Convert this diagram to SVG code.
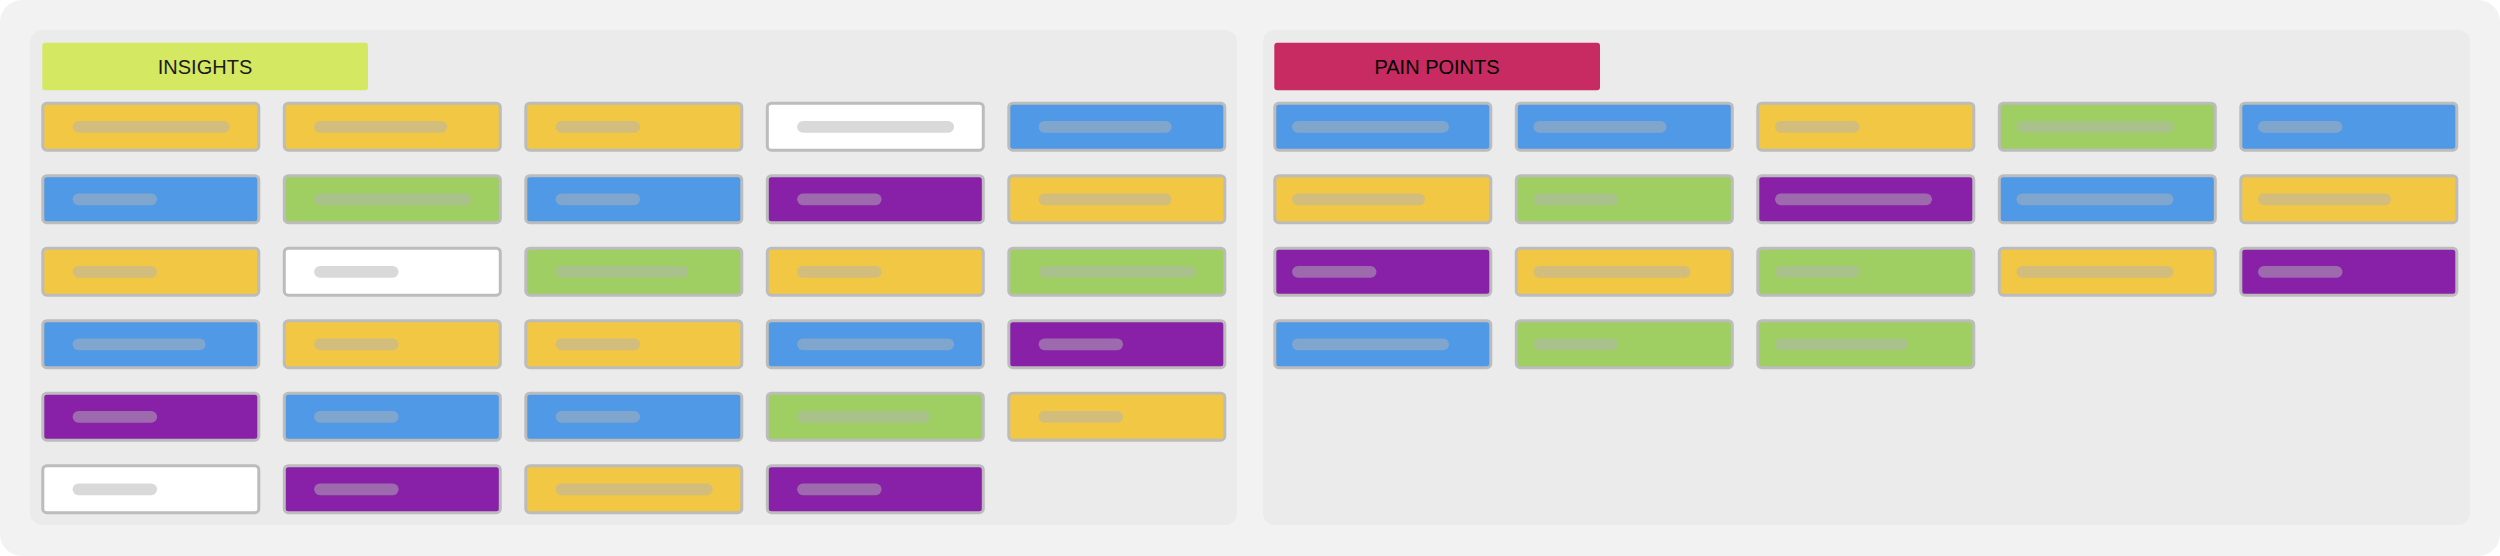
<svg xmlns="http://www.w3.org/2000/svg" width="2500" height="556" viewBox="0 0 2500 556">
<style>
.card{stroke:#bcbcbc;stroke-width:3}
.y{fill:#f2c744}.b{fill:#4f99e6}.g{fill:#9fcf62}.p{fill:#8820a8}.w{fill:#ffffff}
.bar{fill:#b4b4b4;fill-opacity:0.5}
.hdr{font-family:"Liberation Sans",Arial,sans-serif;font-size:20px;text-anchor:middle}
</style>
<rect x="0" y="0" width="2500" height="556" fill="#ffffff"/>
<rect id="board" x="0" y="0" width="2500" height="556" rx="22" fill="#f2f2f2"/>
<g id="insights-panel">
<rect x="30" y="30" width="1207" height="495" rx="12" fill="#ebebeb"/>
<g id="insights-header"><rect x="42.3" y="42.7" width="325.7" height="47.6" rx="3" fill="#d4e862"/><text class="hdr" x="205" y="74" fill="#1a1a1a">INSIGHTS</text></g>
</g>
<g id="painpoints-panel">
<rect x="1263" y="30" width="1207" height="495" rx="12" fill="#ebebeb"/>
<g id="painpoints-header"><rect x="1274.3" y="42.7" width="325.7" height="47.6" rx="3" fill="#c82b61"/><text class="hdr" x="1437" y="74" fill="#000000">PAIN POINTS</text></g>
</g>
<g id="connectors"></g>
<g id="insights-cards">
<g id="i-1-1" transform="translate(41.3,101.7)"><rect class="card y" x="1.5" y="1.5" width="216" height="47" rx="4"/><rect class="bar" x="31.3" y="19.3" width="157" height="11.7" rx="5.85"/></g>
<g id="i-1-2" transform="translate(282.8,101.7)"><rect class="card y" x="1.5" y="1.5" width="216" height="47" rx="4"/><rect class="bar" x="31.3" y="19.3" width="133" height="11.7" rx="5.85"/></g>
<g id="i-1-3" transform="translate(524.3,101.7)"><rect class="card y" x="1.5" y="1.5" width="216" height="47" rx="4"/><rect class="bar" x="31.3" y="19.3" width="84.5" height="11.7" rx="5.85"/></g>
<g id="i-1-4" transform="translate(765.8,101.7)"><rect class="card w" x="1.5" y="1.5" width="216" height="47" rx="4"/><rect class="bar" x="31.3" y="19.3" width="157" height="11.7" rx="5.85"/></g>
<g id="i-1-5" transform="translate(1007.3,101.7)"><rect class="card b" x="1.5" y="1.5" width="216" height="47" rx="4"/><rect class="bar" x="31.3" y="19.3" width="133" height="11.7" rx="5.85"/></g>

<g id="i-2-1" transform="translate(41.3,174.2)"><rect class="card b" x="1.5" y="1.5" width="216" height="47" rx="4"/><rect class="bar" x="31.3" y="19.3" width="84.5" height="11.7" rx="5.85"/></g>
<g id="i-2-2" transform="translate(282.8,174.2)"><rect class="card g" x="1.5" y="1.5" width="216" height="47" rx="4"/><rect class="bar" x="31.3" y="19.3" width="157" height="11.7" rx="5.85"/></g>
<g id="i-2-3" transform="translate(524.3,174.2)"><rect class="card b" x="1.5" y="1.5" width="216" height="47" rx="4"/><rect class="bar" x="31.3" y="19.3" width="84.5" height="11.7" rx="5.85"/></g>
<g id="i-2-4" transform="translate(765.8,174.2)"><rect class="card p" x="1.5" y="1.5" width="216" height="47" rx="4"/><rect class="bar" x="31.3" y="19.3" width="84.5" height="11.7" rx="5.85"/></g>
<g id="i-2-5" transform="translate(1007.3,174.2)"><rect class="card y" x="1.5" y="1.5" width="216" height="47" rx="4"/><rect class="bar" x="31.3" y="19.3" width="133" height="11.7" rx="5.85"/></g>

<g id="i-3-1" transform="translate(41.3,246.7)"><rect class="card y" x="1.5" y="1.5" width="216" height="47" rx="4"/><rect class="bar" x="31.3" y="19.3" width="84.5" height="11.7" rx="5.85"/></g>
<g id="i-3-2" transform="translate(282.8,246.7)"><rect class="card w" x="1.5" y="1.5" width="216" height="47" rx="4"/><rect class="bar" x="31.3" y="19.3" width="84.5" height="11.7" rx="5.85"/></g>
<g id="i-3-3" transform="translate(524.3,246.7)"><rect class="card g" x="1.5" y="1.5" width="216" height="47" rx="4"/><rect class="bar" x="31.3" y="19.3" width="133" height="11.7" rx="5.85"/></g>
<g id="i-3-4" transform="translate(765.8,246.7)"><rect class="card y" x="1.5" y="1.5" width="216" height="47" rx="4"/><rect class="bar" x="31.3" y="19.3" width="84.5" height="11.7" rx="5.85"/></g>
<g id="i-3-5" transform="translate(1007.3,246.7)"><rect class="card g" x="1.5" y="1.5" width="216" height="47" rx="4"/><rect class="bar" x="31.3" y="19.3" width="157" height="11.7" rx="5.85"/></g>

<g id="i-4-1" transform="translate(41.3,319.2)"><rect class="card b" x="1.5" y="1.5" width="216" height="47" rx="4"/><rect class="bar" x="31.3" y="19.3" width="133" height="11.7" rx="5.85"/></g>
<g id="i-4-2" transform="translate(282.8,319.2)"><rect class="card y" x="1.5" y="1.5" width="216" height="47" rx="4"/><rect class="bar" x="31.3" y="19.3" width="84.5" height="11.7" rx="5.85"/></g>
<g id="i-4-3" transform="translate(524.3,319.2)"><rect class="card y" x="1.5" y="1.5" width="216" height="47" rx="4"/><rect class="bar" x="31.3" y="19.3" width="84.5" height="11.7" rx="5.85"/></g>
<g id="i-4-4" transform="translate(765.8,319.2)"><rect class="card b" x="1.5" y="1.5" width="216" height="47" rx="4"/><rect class="bar" x="31.3" y="19.3" width="157" height="11.7" rx="5.85"/></g>
<g id="i-4-5" transform="translate(1007.3,319.2)"><rect class="card p" x="1.5" y="1.5" width="216" height="47" rx="4"/><rect class="bar" x="31.3" y="19.3" width="84.5" height="11.7" rx="5.85"/></g>

<g id="i-5-1" transform="translate(41.3,391.7)"><rect class="card p" x="1.5" y="1.5" width="216" height="47" rx="4"/><rect class="bar" x="31.3" y="19.3" width="84.5" height="11.7" rx="5.85"/></g>
<g id="i-5-2" transform="translate(282.8,391.7)"><rect class="card b" x="1.5" y="1.5" width="216" height="47" rx="4"/><rect class="bar" x="31.3" y="19.3" width="84.5" height="11.7" rx="5.85"/></g>
<g id="i-5-3" transform="translate(524.3,391.7)"><rect class="card b" x="1.5" y="1.5" width="216" height="47" rx="4"/><rect class="bar" x="31.3" y="19.3" width="84.5" height="11.7" rx="5.85"/></g>
<g id="i-5-4" transform="translate(765.8,391.7)"><rect class="card g" x="1.5" y="1.5" width="216" height="47" rx="4"/><rect class="bar" x="31.3" y="19.3" width="133" height="11.7" rx="5.85"/></g>
<g id="i-5-5" transform="translate(1007.3,391.7)"><rect class="card y" x="1.5" y="1.5" width="216" height="47" rx="4"/><rect class="bar" x="31.3" y="19.3" width="84.5" height="11.7" rx="5.85"/></g>

<g id="i-6-1" transform="translate(41.3,464.2)"><rect class="card w" x="1.5" y="1.5" width="216" height="47" rx="4"/><rect class="bar" x="31.3" y="19.3" width="84.5" height="11.7" rx="5.85"/></g>
<g id="i-6-2" transform="translate(282.8,464.2)"><rect class="card p" x="1.5" y="1.5" width="216" height="47" rx="4"/><rect class="bar" x="31.3" y="19.3" width="84.5" height="11.7" rx="5.85"/></g>
<g id="i-6-3" transform="translate(524.3,464.2)"><rect class="card y" x="1.5" y="1.5" width="216" height="47" rx="4"/><rect class="bar" x="31.3" y="19.3" width="157" height="11.7" rx="5.85"/></g>
<g id="i-6-4" transform="translate(765.8,464.2)"><rect class="card p" x="1.5" y="1.5" width="216" height="47" rx="4"/><rect class="bar" x="31.3" y="19.3" width="84.5" height="11.7" rx="5.85"/></g>
</g>
<g id="painpoints-cards">
<g id="p-1-1" transform="translate(1273.3,101.7)"><rect class="card b" x="1.5" y="1.5" width="216" height="47" rx="4"/><rect class="bar" x="18.7" y="19.3" width="157" height="11.7" rx="5.85"/></g>
<g id="p-1-2" transform="translate(1514.8,101.7)"><rect class="card b" x="1.5" y="1.5" width="216" height="47" rx="4"/><rect class="bar" x="18.7" y="19.3" width="133" height="11.7" rx="5.85"/></g>
<g id="p-1-3" transform="translate(1756.3,101.7)"><rect class="card y" x="1.5" y="1.5" width="216" height="47" rx="4"/><rect class="bar" x="18.7" y="19.3" width="84.5" height="11.7" rx="5.85"/></g>
<g id="p-1-4" transform="translate(1997.8,101.7)"><rect class="card g" x="1.5" y="1.5" width="216" height="47" rx="4"/><rect class="bar" x="18.7" y="19.3" width="157" height="11.7" rx="5.85"/></g>
<g id="p-1-5" transform="translate(2239.3,101.7)"><rect class="card b" x="1.5" y="1.5" width="216" height="47" rx="4"/><rect class="bar" x="18.7" y="19.3" width="84.5" height="11.7" rx="5.85"/></g>

<g id="p-2-1" transform="translate(1273.3,174.2)"><rect class="card y" x="1.5" y="1.5" width="216" height="47" rx="4"/><rect class="bar" x="18.7" y="19.3" width="133" height="11.7" rx="5.85"/></g>
<g id="p-2-2" transform="translate(1514.8,174.2)"><rect class="card g" x="1.5" y="1.5" width="216" height="47" rx="4"/><rect class="bar" x="18.7" y="19.3" width="84.5" height="11.7" rx="5.85"/></g>
<g id="p-2-3" transform="translate(1756.3,174.2)"><rect class="card p" x="1.5" y="1.5" width="216" height="47" rx="4"/><rect class="bar" x="18.7" y="19.3" width="157" height="11.7" rx="5.85"/></g>
<g id="p-2-4" transform="translate(1997.8,174.2)"><rect class="card b" x="1.5" y="1.5" width="216" height="47" rx="4"/><rect class="bar" x="18.7" y="19.3" width="157" height="11.7" rx="5.85"/></g>
<g id="p-2-5" transform="translate(2239.3,174.2)"><rect class="card y" x="1.5" y="1.5" width="216" height="47" rx="4"/><rect class="bar" x="18.7" y="19.3" width="133" height="11.7" rx="5.85"/></g>

<g id="p-3-1" transform="translate(1273.3,246.7)"><rect class="card p" x="1.5" y="1.5" width="216" height="47" rx="4"/><rect class="bar" x="18.7" y="19.3" width="84.5" height="11.7" rx="5.85"/></g>
<g id="p-3-2" transform="translate(1514.8,246.7)"><rect class="card y" x="1.5" y="1.5" width="216" height="47" rx="4"/><rect class="bar" x="18.7" y="19.3" width="157" height="11.7" rx="5.85"/></g>
<g id="p-3-3" transform="translate(1756.3,246.7)"><rect class="card g" x="1.5" y="1.5" width="216" height="47" rx="4"/><rect class="bar" x="18.7" y="19.3" width="84.5" height="11.7" rx="5.85"/></g>
<g id="p-3-4" transform="translate(1997.8,246.7)"><rect class="card y" x="1.5" y="1.5" width="216" height="47" rx="4"/><rect class="bar" x="18.7" y="19.3" width="157" height="11.7" rx="5.85"/></g>
<g id="p-3-5" transform="translate(2239.3,246.7)"><rect class="card p" x="1.5" y="1.5" width="216" height="47" rx="4"/><rect class="bar" x="18.7" y="19.3" width="84.5" height="11.7" rx="5.85"/></g>

<g id="p-4-1" transform="translate(1273.3,319.2)"><rect class="card b" x="1.5" y="1.5" width="216" height="47" rx="4"/><rect class="bar" x="18.7" y="19.3" width="157" height="11.7" rx="5.85"/></g>
<g id="p-4-2" transform="translate(1514.8,319.2)"><rect class="card g" x="1.5" y="1.5" width="216" height="47" rx="4"/><rect class="bar" x="18.7" y="19.3" width="84.5" height="11.7" rx="5.85"/></g>
<g id="p-4-3" transform="translate(1756.3,319.2)"><rect class="card g" x="1.5" y="1.5" width="216" height="47" rx="4"/><rect class="bar" x="18.7" y="19.3" width="133" height="11.7" rx="5.85"/></g>
</g>
</svg>
